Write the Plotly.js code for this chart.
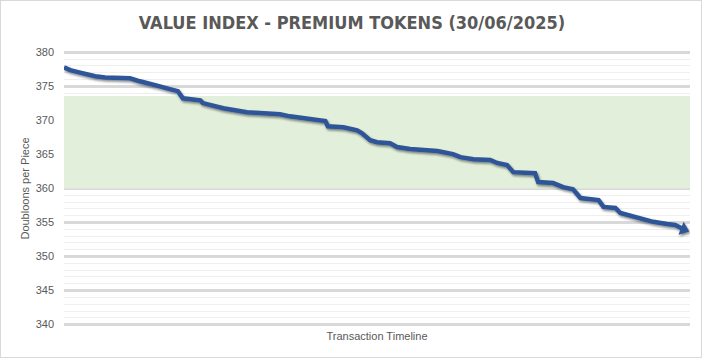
<!DOCTYPE html>
<html>
<head>
<meta charset="utf-8">
<script src="https://cdn.plot.ly/plotly-3.0.1.min.js"></script>
<style>
html,body{margin:0;padding:0;background:#fff;}
#wrap{position:relative;width:704px;height:359px;}
#chart{width:704px;height:359px;}
#frame{position:absolute;left:0;top:0;width:700px;height:356px;border:1px solid #d9d9d9;pointer-events:none;}
</style>
</head>
<body>
<div id="wrap"><div id="chart"></div><div id="frame"></div></div>
<script>
// Transaction position along the timeline
const transactions = [0, 1, 2.25, 3.4, 5, 6.6, 10.6, 12.2, 13.8, 15.4, 17, 18.3, 19.1, 21.9, 22.3, 24, 25.6, 29.4, 33.1, 34.7, 36.3, 39.1, 41.2, 42, 42.4, 44.9, 47.1, 47.9, 49.2, 50.3, 52.4, 53.5, 55.6, 58.8, 60, 62.5, 63.7, 65.8, 68.5, 69.6, 71.2, 72.2, 75.7, 76.2, 78.6, 80.2, 81.8, 83, 85.9, 86.7, 88.6, 89.4, 92.1, 94.7, 96.9, 98.2, 99.6];
// Doubloons per piece
const values = [377.8, 377.4, 377.1, 376.8, 376.5, 376.3, 376.2, 375.75, 375.45, 375.0, 374.6, 374.3, 373.25, 372.95, 372.55, 372.1, 371.8, 371.2, 371.05, 370.9, 370.6, 370.2, 370.05, 369.9, 369.15, 369.0, 368.55, 368.1, 367.1, 366.8, 366.65, 366.1, 365.8, 365.5, 365.5, 365.05, 364.6, 364.3, 364.2, 363.75, 363.45, 362.4, 362.25, 360.95, 360.8, 360.2, 359.9, 358.6, 358.3, 357.3, 357.15, 356.4, 355.8, 355.1, 354.8, 354.65, 354.0];
// Target band
const bandLow = 360;
const bandHigh = 373.6;
const xRange = [0, 100.6];
const yTicks = [340, 345, 350, 355, 360, 365, 370, 375, 380];

const n = values.length;

const band = {
  x: [xRange[0], xRange[1], xRange[1], xRange[0], xRange[0]],
  y: [bandLow, bandLow, bandHigh, bandHigh, bandLow],
  type: 'scatter', mode: 'lines', fill: 'toself',
  fillcolor: '#e2efda', line: {width: 0, color: 'rgba(0,0,0,0)'},
  hoverinfo: 'skip'
};

const line = {
  x: transactions,
  y: values,
  type: 'scatter',
  mode: 'lines',
  line: {color: '#2f5597', width: 4.5, shape: 'linear'},
  hoverinfo: 'skip'
};

const arrow = {
  x: [transactions[n - 1]],
  y: [values[n - 1]],
  type: 'scatter', mode: 'markers',
  marker: {symbol: 'triangle-right', size: 12, angle: 22, color: '#2f5597', line: {width: 0}},
  hoverinfo: 'skip'
};

const layout = {
  width: 704, height: 359,
  margin: {l: 64, r: 14, t: 50.6, b: 32.6},
  paper_bgcolor: '#ffffff',
  plot_bgcolor: '#ffffff',
  showlegend: false,
  title: {
    text: '<b>VALUE INDEX - PREMIUM TOKENS (30/06/2025)</b>',
    font: {family: '"DejaVu Sans Condensed", "Liberation Sans", Arial, sans-serif', size: 18, color: '#595959'},
    x: 0.5, xanchor: 'center', y: 0.937, yanchor: 'middle', yref: 'container'
  },
  xaxis: {
    range: xRange,
    showticklabels: false, ticks: '', showgrid: false, zeroline: false, showline: false,
    title: {text: 'Transaction Timeline', font: {family: '"Liberation Sans", Arial, sans-serif', size: 11, color: '#595959'}, standoff: 6}
  },
  yaxis: {
    range: [339.8, 380.2],
    tickvals: yTicks,
    ticktext: yTicks.map(String),
    tickfont: {family: '"Liberation Sans", Arial, sans-serif', size: 11, color: '#595959'},
    ticks: '', ticklen: 0, ticklabelstandoff: 9,
    showgrid: true, gridcolor: '#d9d9d9', gridwidth: 3,
    minor: {dtick: 1, showgrid: true, gridcolor: '#efefef', gridwidth: 1, ticks: ''},
    zeroline: false, showline: false,
    title: {text: 'Doubloons per Piece', font: {family: '"Liberation Sans", Arial, sans-serif', size: 11, color: '#595959'}, standoff: 3}
  }
};

function addShadow() {
  const svg = document.querySelector('#chart svg.main-svg');
  const ns = 'http://www.w3.org/2000/svg';
  let defs = svg.querySelector('defs');
  if (!defs) { defs = document.createElementNS(ns, 'defs'); svg.insertBefore(defs, svg.firstChild); }
  const f = document.createElementNS(ns, 'filter');
  f.setAttribute('id', 'lineshadow');
  f.setAttribute('x', '-10%'); f.setAttribute('y', '-10%');
  f.setAttribute('width', '130%'); f.setAttribute('height', '140%');
  const ds = document.createElementNS(ns, 'feDropShadow');
  ds.setAttribute('dx', '1.2'); ds.setAttribute('dy', '1.8');
  ds.setAttribute('stdDeviation', '1');
  ds.setAttribute('flood-color', '#000'); ds.setAttribute('flood-opacity', '0.45');
  f.appendChild(ds); defs.appendChild(f);
  const traces = document.querySelectorAll('#chart .scatterlayer .trace');
  for (let i = 1; i < traces.length; i++) traces[i].setAttribute('filter', 'url(#lineshadow)');
}

Plotly.newPlot('chart', [band, line, arrow], layout, {staticPlot: true, displayModeBar: false}).then(addShadow);
</script>
</body>
</html>
